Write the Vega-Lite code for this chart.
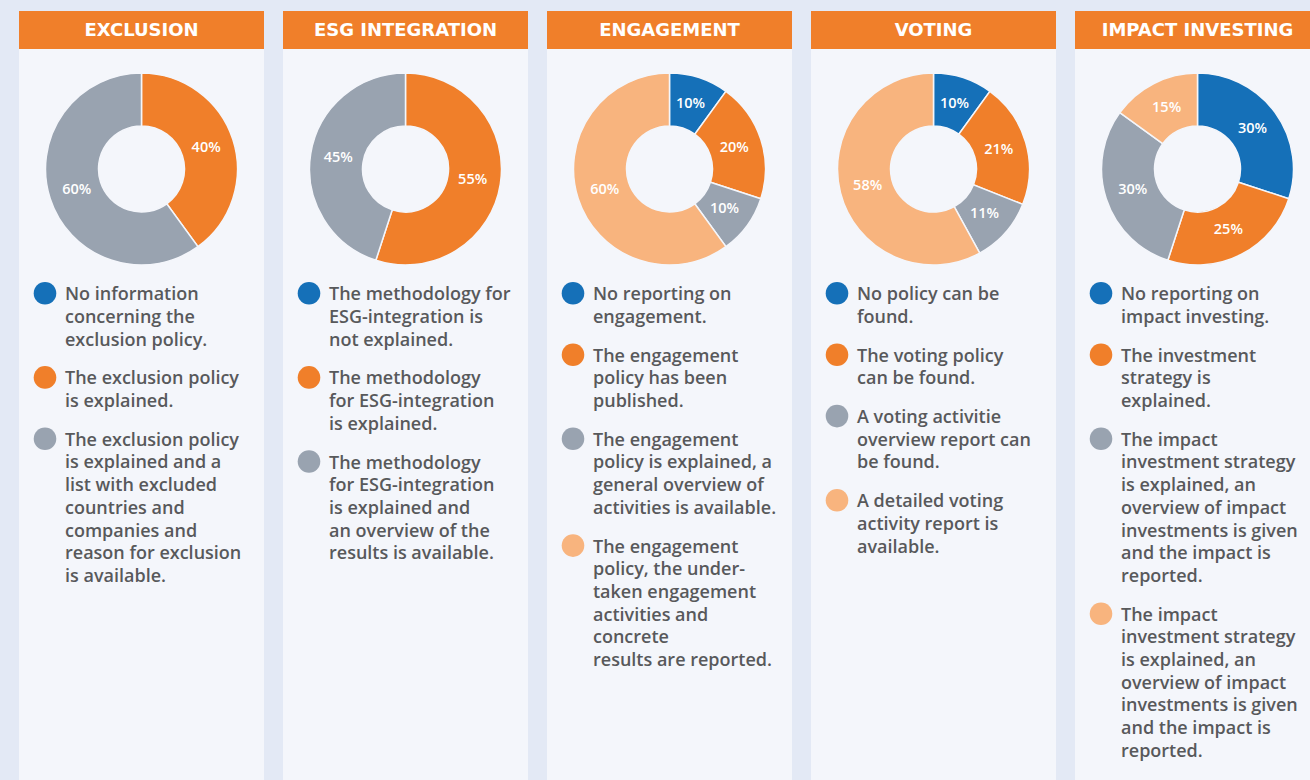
{
  "$schema": "https://vega.github.io/schema/vega-lite/v6.json",
  "background": "#e3e9f5",
  "padding": {"left": 19, "top": 11, "right": 0, "bottom": 0},
  "config": {"view": {"stroke": null}},
  "datasets": {
    "exclusion": [
      {"order": 1, "share": 0, "lines": 3, "label": "No information\nconcerning the\nexclusion policy."},
      {"order": 2, "share": 0.4, "lines": 2, "label": "The exclusion policy\nis explained."},
      {"order": 3, "share": 0.6, "lines": 7, "label": "The exclusion policy\nis explained and a\nlist with excluded\ncountries and\ncompanies and\nreason for exclusion\nis available."}
    ],
    "esg": [
      {"order": 1, "share": 0, "lines": 3, "label": "The methodology for\nESG-integration is\nnot explained."},
      {"order": 2, "share": 0.55, "lines": 3, "label": "The methodology\nfor ESG-integration\nis explained."},
      {"order": 3, "share": 0.45, "lines": 5, "label": "The methodology\nfor ESG-integration\nis explained and\nan overview of the\nresults is available."}
    ],
    "engagement": [
      {"order": 1, "share": 0.1, "lines": 2, "label": "No reporting on\nengagement."},
      {"order": 2, "share": 0.2, "lines": 3, "label": "The engagement\npolicy has been\npublished."},
      {"order": 3, "share": 0.1, "lines": 4, "label": "The engagement\npolicy is explained, a\ngeneral overview of\nactivities is available."},
      {"order": 4, "share": 0.6, "lines": 6, "label": "The engagement\npolicy, the under-\ntaken engagement\nactivities and\nconcrete\nresults are reported."}
    ],
    "voting": [
      {"order": 1, "share": 0.1, "lines": 2, "label": "No policy can be\nfound."},
      {"order": 2, "share": 0.21, "lines": 2, "label": "The voting policy\ncan be found."},
      {"order": 3, "share": 0.11, "lines": 3, "label": "A voting activitie\noverview report can\nbe found."},
      {"order": 4, "share": 0.58, "lines": 3, "label": "A detailed voting\nactivity report is\navailable."}
    ],
    "impact": [
      {"order": 1, "share": 0.3, "lines": 2, "label": "No reporting on\nimpact investing."},
      {"order": 2, "share": 0.25, "lines": 3, "label": "The investment\nstrategy is\nexplained."},
      {"order": 3, "share": 0.3, "lines": 7, "label": "The impact\ninvestment strategy\nis explained, an\noverview of impact\ninvestments is given\nand the impact is\nreported."},
      {"order": 4, "share": 0.15, "lines": 7, "label": "The impact\ninvestment strategy\nis explained, an\noverview of impact\ninvestments is given\nand the impact is\nreported."}
    ]
  },
  "hconcat": [
    {
      "vconcat": [
        {"width": 245, "height": 38, "view": {"fill": "#f07f2a", "stroke": null}, "data": {"values": [{"panel": "EXCLUSION"}]},
         "mark": {"type": "text", "font": "DejaVu Sans", "fontWeight": "bold", "fontSize": 18, "fill": "white", "dy": 1},
         "encoding": {"text": {"field": "panel"}}},
        {"width": 245, "height": 240, "view": {"fill": "#f4f6fb", "stroke": null}, "data": {"name": "exclusion"},
         "layer": [
           {"mark": {"type": "arc", "outerRadius": 96, "innerRadius": 43, "stroke": "#f4f6fb", "strokeWidth": 1.5},
            "encoding": {"theta": {"field": "share", "type": "quantitative", "stack": true}, "order": {"field": "order", "type": "quantitative"},
              "color": {"field": "order", "type": "nominal", "scale": {"domain": [1, 2, 3, 4], "range": ["#1570b8", "#f07f2a", "#99a3b0", "#f8b47e"]}, "legend": null}}},
           {"transform": [{"filter": "datum.share > 0"}],
            "mark": {"type": "text", "radius": 68, "fill": "white", "font": "Open Sans", "fontWeight": 600, "fontSize": 14.5},
            "encoding": {"theta": {"field": "share", "type": "quantitative", "stack": true}, "order": {"field": "order", "type": "quantitative"}, "detail": {"field": "order", "type": "nominal"},
              "text": {"field": "share", "type": "quantitative", "format": ".0%"}}}
         ]},
        {"width": 245, "height": 491, "view": {"fill": "#f4f6fb", "stroke": null}, "data": {"name": "exclusion"},
         "transform": [{"stack": "lines", "groupby": [], "sort": [{"field": "order", "order": "ascending"}], "as": ["y0", "y1"]}],
         "encoding": {
           "y": {"field": "order", "type": "ordinal", "scale": {"type": "point", "domain": [1, 2, 3, 4], "range": [4.3, 52.3], "padding": 0}, "axis": null},
           "yOffset": {"field": "y0", "type": "quantitative", "scale": {"domain": [0, 1], "range": [0, 22.7], "zero": false, "nice": false}}
         },
         "layer": [
           {"mark": {"type": "point", "shape": "circle", "filled": true, "opacity": 1, "size": 510},
            "encoding": {"x": {"datum": "swatch", "type": "nominal", "scale": {"type": "point", "domain": ["swatch", "label"], "range": [26, 46], "padding": 0}, "axis": null},
              "color": {"field": "order", "type": "nominal", "legend": null}}},
           {"mark": {"type": "text", "align": "left", "baseline": "alphabetic", "dy": 7, "lineHeight": 22.7, "lineBreak": "\n", "font": "Open Sans", "fontWeight": 600, "fontSize": 18, "fill": "#58595b"},
            "encoding": {"x": {"datum": "label", "type": "nominal"}, "text": {"field": "label"}}}
         ]}
      ],
      "spacing": 0, "bounds": "flush"
    },
    {
      "vconcat": [
        {"width": 245, "height": 38, "view": {"fill": "#f07f2a", "stroke": null}, "data": {"values": [{"panel": "ESG INTEGRATION"}]},
         "mark": {"type": "text", "font": "DejaVu Sans", "fontWeight": "bold", "fontSize": 18, "fill": "white", "dy": 1},
         "encoding": {"text": {"field": "panel"}}},
        {"width": 245, "height": 240, "view": {"fill": "#f4f6fb", "stroke": null}, "data": {"name": "esg"},
         "layer": [
           {"mark": {"type": "arc", "outerRadius": 96, "innerRadius": 43, "stroke": "#f4f6fb", "strokeWidth": 1.5},
            "encoding": {"theta": {"field": "share", "type": "quantitative", "stack": true}, "order": {"field": "order", "type": "quantitative"},
              "color": {"field": "order", "type": "nominal", "legend": null}}},
           {"transform": [{"filter": "datum.share > 0"}],
            "mark": {"type": "text", "radius": 68, "fill": "white", "font": "Open Sans", "fontWeight": 600, "fontSize": 14.5},
            "encoding": {"theta": {"field": "share", "type": "quantitative", "stack": true}, "order": {"field": "order", "type": "quantitative"}, "detail": {"field": "order", "type": "nominal"},
              "text": {"field": "share", "type": "quantitative", "format": ".0%"}}}
         ]},
        {"width": 245, "height": 491, "view": {"fill": "#f4f6fb", "stroke": null}, "data": {"name": "esg"},
         "transform": [{"stack": "lines", "groupby": [], "sort": [{"field": "order", "order": "ascending"}], "as": ["y0", "y1"]}],
         "encoding": {
           "y": {"field": "order", "type": "ordinal", "scale": {"type": "point", "domain": [1, 2, 3, 4], "range": [4.3, 52.3], "padding": 0}, "axis": null},
           "yOffset": {"field": "y0", "type": "quantitative", "scale": {"domain": [0, 1], "range": [0, 22.7], "zero": false, "nice": false}}
         },
         "layer": [
           {"mark": {"type": "point", "shape": "circle", "filled": true, "opacity": 1, "size": 510},
            "encoding": {"x": {"datum": "swatch", "type": "nominal", "scale": {"type": "point", "domain": ["swatch", "label"], "range": [26, 46], "padding": 0}, "axis": null},
              "color": {"field": "order", "type": "nominal", "legend": null}}},
           {"mark": {"type": "text", "align": "left", "baseline": "alphabetic", "dy": 7, "lineHeight": 22.7, "lineBreak": "\n", "font": "Open Sans", "fontWeight": 600, "fontSize": 18, "fill": "#58595b"},
            "encoding": {"x": {"datum": "label", "type": "nominal"}, "text": {"field": "label"}}}
         ]}
      ],
      "spacing": 0, "bounds": "flush"
    },
    {
      "vconcat": [
        {"width": 245, "height": 38, "view": {"fill": "#f07f2a", "stroke": null}, "data": {"values": [{"panel": "ENGAGEMENT"}]},
         "mark": {"type": "text", "font": "DejaVu Sans", "fontWeight": "bold", "fontSize": 18, "fill": "white", "dy": 1},
         "encoding": {"text": {"field": "panel"}}},
        {"width": 245, "height": 240, "view": {"fill": "#f4f6fb", "stroke": null}, "data": {"name": "engagement"},
         "layer": [
           {"mark": {"type": "arc", "outerRadius": 96, "innerRadius": 43, "stroke": "#f4f6fb", "strokeWidth": 1.5},
            "encoding": {"theta": {"field": "share", "type": "quantitative", "stack": true}, "order": {"field": "order", "type": "quantitative"},
              "color": {"field": "order", "type": "nominal", "legend": null}}},
           {"transform": [{"filter": "datum.share > 0"}],
            "mark": {"type": "text", "radius": 68, "fill": "white", "font": "Open Sans", "fontWeight": 600, "fontSize": 14.5},
            "encoding": {"theta": {"field": "share", "type": "quantitative", "stack": true}, "order": {"field": "order", "type": "quantitative"}, "detail": {"field": "order", "type": "nominal"},
              "text": {"field": "share", "type": "quantitative", "format": ".0%"}}}
         ]},
        {"width": 245, "height": 491, "view": {"fill": "#f4f6fb", "stroke": null}, "data": {"name": "engagement"},
         "transform": [{"stack": "lines", "groupby": [], "sort": [{"field": "order", "order": "ascending"}], "as": ["y0", "y1"]}],
         "encoding": {
           "y": {"field": "order", "type": "ordinal", "scale": {"type": "point", "domain": [1, 2, 3, 4], "range": [4.3, 52.3], "padding": 0}, "axis": null},
           "yOffset": {"field": "y0", "type": "quantitative", "scale": {"domain": [0, 1], "range": [0, 22.7], "zero": false, "nice": false}}
         },
         "layer": [
           {"mark": {"type": "point", "shape": "circle", "filled": true, "opacity": 1, "size": 510},
            "encoding": {"x": {"datum": "swatch", "type": "nominal", "scale": {"type": "point", "domain": ["swatch", "label"], "range": [26, 46], "padding": 0}, "axis": null},
              "color": {"field": "order", "type": "nominal", "legend": null}}},
           {"mark": {"type": "text", "align": "left", "baseline": "alphabetic", "dy": 7, "lineHeight": 22.7, "lineBreak": "\n", "font": "Open Sans", "fontWeight": 600, "fontSize": 18, "fill": "#58595b"},
            "encoding": {"x": {"datum": "label", "type": "nominal"}, "text": {"field": "label"}}}
         ]}
      ],
      "spacing": 0, "bounds": "flush"
    },
    {
      "vconcat": [
        {"width": 245, "height": 38, "view": {"fill": "#f07f2a", "stroke": null}, "data": {"values": [{"panel": "VOTING"}]},
         "mark": {"type": "text", "font": "DejaVu Sans", "fontWeight": "bold", "fontSize": 18, "fill": "white", "dy": 1},
         "encoding": {"text": {"field": "panel"}}},
        {"width": 245, "height": 240, "view": {"fill": "#f4f6fb", "stroke": null}, "data": {"name": "voting"},
         "layer": [
           {"mark": {"type": "arc", "outerRadius": 96, "innerRadius": 43, "stroke": "#f4f6fb", "strokeWidth": 1.5},
            "encoding": {"theta": {"field": "share", "type": "quantitative", "stack": true}, "order": {"field": "order", "type": "quantitative"},
              "color": {"field": "order", "type": "nominal", "legend": null}}},
           {"transform": [{"filter": "datum.share > 0"}],
            "mark": {"type": "text", "radius": 68, "fill": "white", "font": "Open Sans", "fontWeight": 600, "fontSize": 14.5},
            "encoding": {"theta": {"field": "share", "type": "quantitative", "stack": true}, "order": {"field": "order", "type": "quantitative"}, "detail": {"field": "order", "type": "nominal"},
              "text": {"field": "share", "type": "quantitative", "format": ".0%"}}}
         ]},
        {"width": 245, "height": 491, "view": {"fill": "#f4f6fb", "stroke": null}, "data": {"name": "voting"},
         "transform": [{"stack": "lines", "groupby": [], "sort": [{"field": "order", "order": "ascending"}], "as": ["y0", "y1"]}],
         "encoding": {
           "y": {"field": "order", "type": "ordinal", "scale": {"type": "point", "domain": [1, 2, 3, 4], "range": [4.3, 52.3], "padding": 0}, "axis": null},
           "yOffset": {"field": "y0", "type": "quantitative", "scale": {"domain": [0, 1], "range": [0, 22.7], "zero": false, "nice": false}}
         },
         "layer": [
           {"mark": {"type": "point", "shape": "circle", "filled": true, "opacity": 1, "size": 510},
            "encoding": {"x": {"datum": "swatch", "type": "nominal", "scale": {"type": "point", "domain": ["swatch", "label"], "range": [26, 46], "padding": 0}, "axis": null},
              "color": {"field": "order", "type": "nominal", "legend": null}}},
           {"mark": {"type": "text", "align": "left", "baseline": "alphabetic", "dy": 7, "lineHeight": 22.7, "lineBreak": "\n", "font": "Open Sans", "fontWeight": 600, "fontSize": 18, "fill": "#58595b"},
            "encoding": {"x": {"datum": "label", "type": "nominal"}, "text": {"field": "label"}}}
         ]}
      ],
      "spacing": 0, "bounds": "flush"
    },
    {
      "vconcat": [
        {"width": 245, "height": 38, "view": {"fill": "#f07f2a", "stroke": null}, "data": {"values": [{"panel": "IMPACT INVESTING"}]},
         "mark": {"type": "text", "font": "DejaVu Sans", "fontWeight": "bold", "fontSize": 18, "fill": "white", "dy": 1},
         "encoding": {"text": {"field": "panel"}}},
        {"width": 245, "height": 240, "view": {"fill": "#f4f6fb", "stroke": null}, "data": {"name": "impact"},
         "layer": [
           {"mark": {"type": "arc", "outerRadius": 96, "innerRadius": 43, "stroke": "#f4f6fb", "strokeWidth": 1.5},
            "encoding": {"theta": {"field": "share", "type": "quantitative", "stack": true}, "order": {"field": "order", "type": "quantitative"},
              "color": {"field": "order", "type": "nominal", "legend": null}}},
           {"transform": [{"filter": "datum.share > 0"}],
            "mark": {"type": "text", "radius": 68, "fill": "white", "font": "Open Sans", "fontWeight": 600, "fontSize": 14.5},
            "encoding": {"theta": {"field": "share", "type": "quantitative", "stack": true}, "order": {"field": "order", "type": "quantitative"}, "detail": {"field": "order", "type": "nominal"},
              "text": {"field": "share", "type": "quantitative", "format": ".0%"}}}
         ]},
        {"width": 245, "height": 491, "view": {"fill": "#f4f6fb", "stroke": null}, "data": {"name": "impact"},
         "transform": [{"stack": "lines", "groupby": [], "sort": [{"field": "order", "order": "ascending"}], "as": ["y0", "y1"]}],
         "encoding": {
           "y": {"field": "order", "type": "ordinal", "scale": {"type": "point", "domain": [1, 2, 3, 4], "range": [4.3, 52.3], "padding": 0}, "axis": null},
           "yOffset": {"field": "y0", "type": "quantitative", "scale": {"domain": [0, 1], "range": [0, 22.7], "zero": false, "nice": false}}
         },
         "layer": [
           {"mark": {"type": "point", "shape": "circle", "filled": true, "opacity": 1, "size": 510},
            "encoding": {"x": {"datum": "swatch", "type": "nominal", "scale": {"type": "point", "domain": ["swatch", "label"], "range": [26, 46], "padding": 0}, "axis": null},
              "color": {"field": "order", "type": "nominal", "legend": null}}},
           {"mark": {"type": "text", "align": "left", "baseline": "alphabetic", "dy": 7, "lineHeight": 22.7, "lineBreak": "\n", "font": "Open Sans", "fontWeight": 600, "fontSize": 18, "fill": "#58595b"},
            "encoding": {"x": {"datum": "label", "type": "nominal"}, "text": {"field": "label"}}}
         ]}
      ],
      "spacing": 0, "bounds": "flush"
    }
  ],
  "spacing": 19
}
